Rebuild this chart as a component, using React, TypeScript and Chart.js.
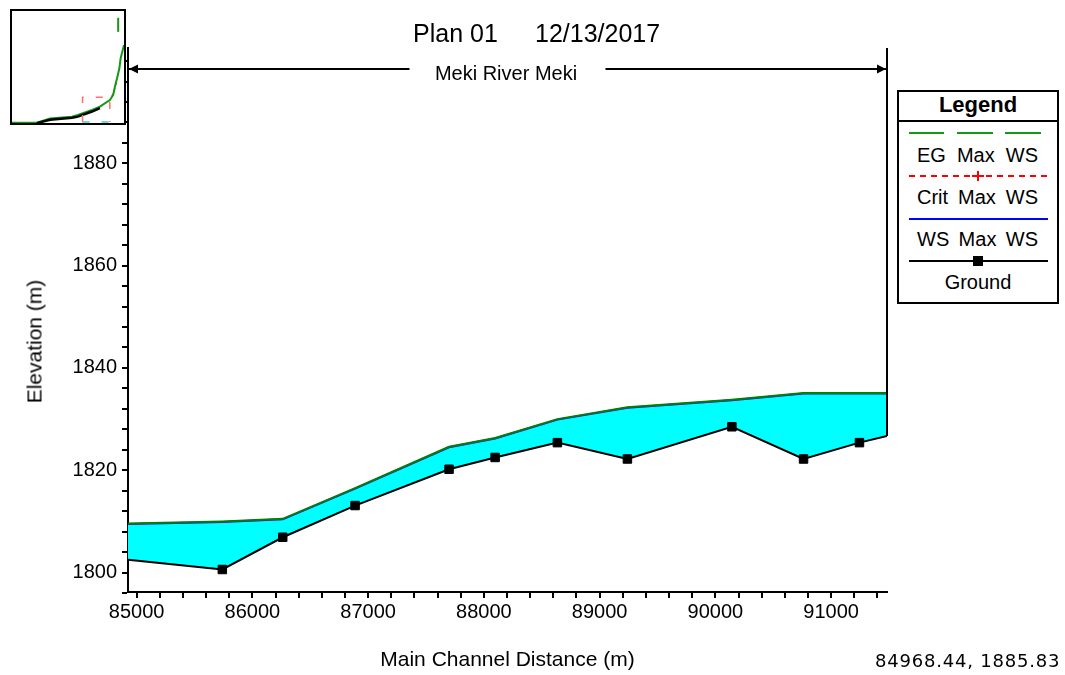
import React, { useEffect, useRef } from 'react';
import { Chart, registerables } from 'chart.js';

Chart.register(...registerables);

const FONT = '"Liberation Sans", Arial, sans-serif';

// Cross-section stations along the main channel (m), Meki River / reach Meki
const stations = [84925, 85740, 86262, 86887, 87699, 88097, 88635, 89240, 90143, 90762, 91245, 91483];
// Channel ground (invert) elevation at each station (m)
const ground = [1802.5, 1800.6, 1806.9, 1813.1, 1820.2, 1822.5, 1825.4, 1822.2, 1828.5, 1822.2, 1825.4, 1826.7];
// Water surface elevation, profile "Max WS" (m)
const wsMax = [1809.5, 1809.9, 1810.4, 1816.4, 1824.5, 1826.2, 1829.9, 1832.2, 1833.7, 1835.0, 1835.0, 1835.0];
// Energy grade elevation, profile "Max WS" (m)
const egMax = [1809.6, 1810.0, 1810.5, 1816.5, 1824.6, 1826.3, 1830.0, 1832.3, 1833.8, 1835.1, 1835.1, 1835.1];
// Stations that get a ground marker
const groundMarked = [false, true, true, true, true, true, true, true, true, true, true, false];

// Axis ticks
const xTickFirst = 85000;
const xTickLast = 91400;
const xMinorStep = 200;
const xLabelStep = 1000;
const yTickFirst = 1796;
const yTickLast = 1900;
const yMinorStep = 4;
const yLabelStep = 20;
const yMin = 1796.2;
const yMax = 1902.55;

// Overview profile of the whole river (km, m)
const overviewKm = [67.9, 69.6, 71.8, 73.9, 77.1, 82.4, 83.8, 87.2, 89.1, 91.5, 92.3, 92.7, 93.3, 93.8, 94.1, 94.6, 94.9];
const overviewEG = [1793, 1793, 1793, 1793, 1811, 1819, 1826, 1848, 1862, 1890, 1912, 1946, 1989, 2027, 2070, 2104, 2126];
const overviewGroundKm = [73.9, 77.1, 82.4, 83.8, 87.2, 89.1];
const overviewGround = [1791, 1806, 1814, 1819, 1841, 1856];
const overviewCritKm = [92.0, 92.6, 93.2];
const overviewCrit = [1905, 1935, 1975];
const overviewSpikeKm = [93.5, 93.5];
const overviewSpike = [2182, 2242];

const range = (a: number, b: number, step: number) => {
  const out: number[] = [];
  for (let v = a; v <= b + 1e-9; v += step) out.push(v);
  return out;
};

const pts = (xs: number[], ys: number[]) => xs.map((x, i) => ({ x, y: ys[i] }));

// Reach boundary and the reach-name arrow above the profile
const reachMarks = {
  id: 'reachMarks',
  afterDatasetsDraw(chart: any) {
    const { ctx, chartArea, scales } = chart;
    const xs = scales.x;
    const ys = scales.y;
    const xl = xs.getPixelForValue(stations[0]);
    const xr = xs.getPixelForValue(stations[stations.length - 1]);
    const yEnd = ys.getPixelForValue(ground[ground.length - 1]);
    ctx.save();
    ctx.strokeStyle = '#000';
    ctx.fillStyle = '#000';
    ctx.lineWidth = 2;
    ctx.beginPath();
    ctx.moveTo(xr, chartArea.top);
    ctx.lineTo(xr, yEnd);
    ctx.stroke();

    const ay = chartArea.top + 21;
    const mid = (xl + xr) / 2;
    const gap = 98;
    ctx.lineWidth = 2;
    ctx.beginPath();
    ctx.moveTo(xl, ay);
    ctx.lineTo(mid - gap, ay);
    ctx.moveTo(mid + gap, ay);
    ctx.lineTo(xr, ay);
    ctx.stroke();
    ctx.beginPath();
    ctx.moveTo(xl + 1, ay);
    ctx.lineTo(xl + 10, ay - 4.5);
    ctx.lineTo(xl + 10, ay + 4.5);
    ctx.closePath();
    ctx.fill();
    ctx.beginPath();
    ctx.moveTo(xr - 1, ay);
    ctx.lineTo(xr - 10, ay - 4.5);
    ctx.lineTo(xr - 10, ay + 4.5);
    ctx.closePath();
    ctx.fill();
    ctx.restore();
  },
};

// Dashed frame showing the extent of the main view on the overview
const viewFrame = {
  id: 'viewFrame',
  afterDatasetsDraw(chart: any) {
    const { ctx, scales } = chart;
    const x0 = scales.x.getPixelForValue(stations[0] / 1000);
    const x1 = scales.x.getPixelForValue(stations[stations.length - 1] / 1000);
    const y0 = scales.y.getPixelForValue(yMax);
    const y1 = scales.y.getPixelForValue(yMin);
    ctx.save();
    ctx.lineWidth = 1.5;
    ctx.setLineDash([7, 12]);
    ctx.strokeStyle = '#ff7070';
    ctx.beginPath();
    ctx.moveTo(x0, y1);
    ctx.lineTo(x0, y0);
    ctx.lineTo(x1, y0);
    ctx.lineTo(x1, y1);
    ctx.stroke();
    ctx.strokeStyle = '#40c8c8';
    ctx.beginPath();
    ctx.moveTo(x0, y1);
    ctx.lineTo(x1, y1);
    ctx.stroke();
    ctx.restore();
  },
};

type TextProps = {
  x: number;
  y: number;
  size: number;
  text: string;
  bold?: boolean;
  center?: boolean;
  family?: string;
  spacing?: number;
};

function Text({ x, y, size, text, bold, center, family, spacing }: TextProps) {
  return (
    <div
      style={{
        position: 'absolute',
        left: x,
        top: y - size * 0.49,
        fontSize: size,
        lineHeight: 1,
        fontWeight: bold ? 'bold' : 'normal',
        fontFamily: family || FONT,
        letterSpacing: spacing ? spacing : 'normal',
        whiteSpace: 'pre',
        transform: center ? 'translateX(-50%)' : undefined,
        color: '#000',
      }}
    >
      {text}
    </div>
  );
}

function LegendRow({ y, words }: { y: number; words: string[] }) {
  return (
    <div
      style={{
        position: 'absolute',
        left: 917,
        width: 121,
        top: y - 20 * 0.49,
        fontSize: 20,
        lineHeight: 1,
        fontFamily: FONT,
        display: 'flex',
        justifyContent: 'space-between',
        whiteSpace: 'pre',
        color: '#000',
      }}
    >
      {words.map((w) => (
        <span key={w + y}>{w}</span>
      ))}
    </div>
  );
}

const hLine = (left: number, top: number, width: number, color: string, h = 2) => (
  <div style={{ position: 'absolute', left, top: top - h / 2, width, height: h, background: color }} />
);

export default function App() {
  const mainRef = useRef<HTMLCanvasElement>(null);
  const miniRef = useRef<HTMLCanvasElement>(null);

  useEffect(() => {
    const xTicks = range(xTickFirst, xTickLast, xMinorStep);
    const yTicks = range(yTickFirst, yTickLast, yMinorStep);
    const tickFont = { family: FONT, size: 20 };

    const main = new Chart(mainRef.current as HTMLCanvasElement, {
      type: 'line',
      data: {
        datasets: [
          {
            label: 'Ground',
            data: pts(stations, ground),
            borderColor: '#000',
            borderWidth: 2,
            pointStyle: 'rect',
            pointRadius: groundMarked.map((m) => (m ? 6 : 0)),
            pointBackgroundColor: '#000',
            pointBorderColor: '#000',
            pointBorderWidth: 1,
            fill: false,
            tension: 0,
          },
          {
            label: 'EG  Max WS',
            data: pts(stations, egMax),
            borderColor: '#008000',
            borderWidth: 2,
            pointRadius: 0,
            fill: false,
            tension: 0,
          },
          {
            label: 'WS  Max WS',
            data: pts(stations, wsMax),
            borderColor: '#0000ff',
            borderWidth: 2,
            pointRadius: 0,
            backgroundColor: '#00ffff',
            fill: { target: 0 },
            tension: 0,
          },
        ],
      },
      options: {
        responsive: false,
        animation: false,
        devicePixelRatio: 1,
        events: [],
        layout: { padding: { top: 48, right: 178, left: 0, bottom: 0 } },
        plugins: {
          legend: { display: false },
          tooltip: { enabled: false },
          title: { display: false },
        },
        scales: {
          x: {
            type: 'linear',
            position: 'bottom',
            min: stations[0],
            max: stations[stations.length - 1],
            afterBuildTicks: (s: any) => {
              s.ticks = xTicks.map((value) => ({ value }));
            },
            afterFit: (s: any) => {
              s.height = 83;
            },
            ticks: {
              autoSkip: false,
              maxRotation: 0,
              padding: 2,
              color: '#000',
              font: tickFont,
              callback: (v: any) => (Math.round(Number(v)) % xLabelStep === 0 ? String(Math.round(Number(v))) : ''),
            },
            grid: { drawOnChartArea: false, drawTicks: true, tickLength: 6, color: '#000', lineWidth: 2 },
            border: { display: true, color: '#000', width: 2 },
            title: {
              display: true,
              text: 'Main Channel Distance (m)',
              color: '#000',
              font: { family: FONT, size: 21 },
              padding: { top: 0, bottom: 2 },
            },
          },
          y: {
            type: 'linear',
            position: 'left',
            min: yMin,
            max: yMax,
            afterBuildTicks: (s: any) => {
              s.ticks = yTicks.map((value) => ({ value }));
            },
            afterFit: (s: any) => {
              s.width = 128;
            },
            ticks: {
              autoSkip: false,
              padding: 5,
              color: '#000',
              font: tickFont,
              callback: (v: any) => (Math.round(Number(v)) % yLabelStep === 0 ? String(Math.round(Number(v))) : ''),
            },
            grid: { drawOnChartArea: false, drawTicks: true, tickLength: 6, color: '#000', lineWidth: 2 },
            border: { display: true, color: '#000', width: 2 },
            title: { display: false },
          },
        },
      } as any,
      plugins: [reachMarks],
    });

    const mini = new Chart(miniRef.current as HTMLCanvasElement, {
      type: 'line',
      data: {
        datasets: [
          {
            data: pts(overviewGroundKm, overviewGround),
            borderColor: '#000',
            borderWidth: 2.5,
            pointRadius: 0,
            fill: false,
          },
          {
            data: pts(overviewKm, overviewEG),
            borderColor: '#119911',
            borderWidth: 2,
            pointRadius: 0,
            fill: false,
          },
          {
            data: pts(overviewCritKm, overviewCrit),
            borderColor: '#ff4040',
            borderWidth: 1.5,
            borderDash: [3, 3],
            pointRadius: 0,
            fill: false,
          },
          {
            data: pts(overviewSpikeKm, overviewSpike),
            borderColor: '#119911',
            borderWidth: 2,
            pointRadius: 0,
            fill: false,
          },
        ],
      },
      options: {
        responsive: false,
        animation: false,
        devicePixelRatio: 1,
        events: [],
        layout: { padding: 0 },
        plugins: { legend: { display: false }, tooltip: { enabled: false } },
        scales: {
          x: { type: 'linear', display: false, min: 67.94, max: 94.9 },
          y: { type: 'linear', display: false, min: 1791.9, max: 2271.2 },
        },
      } as any,
      plugins: [viewFrame],
    });

    return () => {
      main.destroy();
      mini.destroy();
    };
  }, []);

  return (
    <div
      style={{
        position: 'fixed',
        left: 0,
        top: 0,
        width: 1065,
        height: 675,
        background: '#fff',
        overflow: 'hidden',
        fontFamily: FONT,
      }}
    >
      <canvas
        ref={mainRef}
        width={1065}
        height={675}
        style={{ position: 'absolute', left: 0, top: 0, width: 1065, height: 675 }}
      />

      <Text x={413} y={33} size={25} text="Plan 01" />
      <Text x={535} y={33} size={25} text="12/13/2017" />
      <Text x={506} y={73} size={20} text="Meki River Meki" center />

      <div
        style={{
          position: 'absolute',
          left: 34 - 100,
          top: 341 - 10.5,
          width: 200,
          height: 21,
          fontSize: 21,
          lineHeight: 1,
          textAlign: 'center',
          fontFamily: FONT,
          whiteSpace: 'nowrap',
          transform: 'rotate(-90deg)',
          color: '#000',
        }}
      >
        Elevation (m)
      </div>

      <Text x={875} y={661} size={18} text="84968.44, 1885.83" family='"DejaVu Sans", sans-serif' spacing={0.8} />

      {/* overview of the whole river */}
      <div
        style={{
          position: 'absolute',
          left: 10,
          top: 9,
          width: 116,
          height: 116,
          border: '2px solid #000',
          boxSizing: 'border-box',
          background: '#fff',
        }}
      >
        <canvas ref={miniRef} width={112} height={112} style={{ display: 'block', width: 112, height: 112 }} />
      </div>

      {/* legend */}
      <div
        style={{
          position: 'absolute',
          left: 897,
          top: 90,
          width: 162,
          height: 214,
          border: '2px solid #000',
          boxSizing: 'border-box',
          background: '#fff',
        }}
      />
      {hLine(897, 121, 162, '#000')}
      <Text x={978} y={105} size={22} text="Legend" bold center />

      {hLine(909, 133, 35, '#119911')}
      {hLine(957, 133, 36, '#119911')}
      {hLine(1005, 133, 36, '#119911')}
      <LegendRow y={155} words={['EG', 'Max', 'WS']} />

      <div
        style={{
          position: 'absolute',
          left: 909,
          top: 175,
          width: 139,
          height: 2,
          background: 'repeating-linear-gradient(to right, #ff0000 0px, #ff0000 6px, transparent 6px, transparent 11px)',
        }}
      />
      {hLine(972, 176, 12, '#ff0000')}
      <div style={{ position: 'absolute', left: 977, top: 171, width: 2, height: 10, background: '#ff0000' }} />
      <LegendRow y={197} words={['Crit', 'Max', 'WS']} />

      {hLine(909, 219, 139, '#0000ff')}
      <LegendRow y={239} words={['WS', 'Max', 'WS']} />

      {hLine(909, 261, 139, '#000')}
      <div style={{ position: 'absolute', left: 973, top: 256, width: 10, height: 10, background: '#000' }} />
      <Text x={978} y={282} size={20} text="Ground" center />
    </div>
  );
}
